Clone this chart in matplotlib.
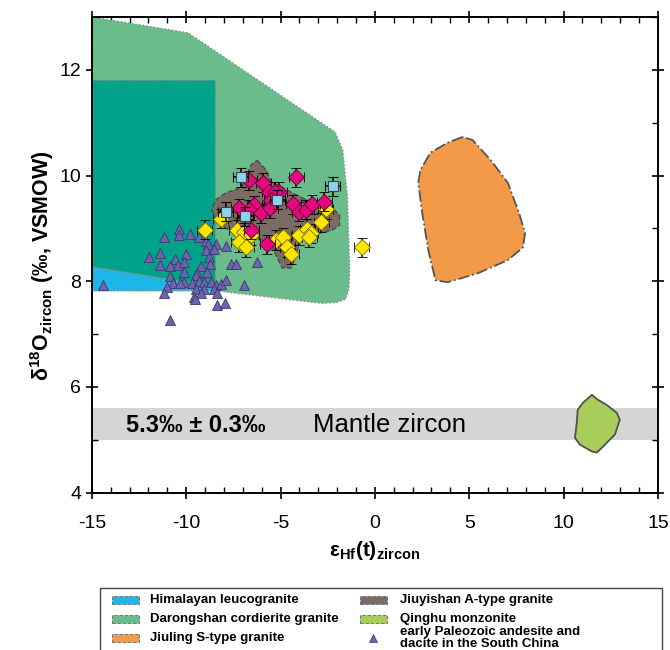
import matplotlib
matplotlib.use('Agg')
import matplotlib.pyplot as plt
from matplotlib.patches import Polygon, Rectangle
from matplotlib.lines import Line2D
from matplotlib.ticker import MultipleLocator

plt.rcParams['font.family'] = ['Liberation Sans', 'DejaVu Sans']
plt.rcParams['mathtext.fontset'] = 'custom'
plt.rcParams['mathtext.rm'] = 'Liberation Sans'
plt.rcParams['mathtext.bf'] = 'Liberation Sans:bold'
plt.rcParams['mathtext.it'] = 'Liberation Sans:italic'
plt.rcParams['axes.unicode_minus'] = False

# field outlines (eHf, d18O)
darongshan = [(-15, 13.0), (-9.9, 12.7), (-2.1, 10.82), (-1.7, 10.48), (-1.45, 9.6),
              (-1.33, 8.2), (-1.38, 7.85), (-1.55, 7.66), (-2.0, 7.6), (-2.8, 7.58),
              (-8.45, 7.82), (-15, 7.82)]
himalaya_overlap = [(-15, 11.8), (-8.45, 11.8), (-8.45, 7.9), (-15, 8.27)]
himalaya = [(-15, 8.27), (-8.45, 7.88), (-8.45, 7.82), (-15, 7.82)]
jiuyishan = [(-6.24, 10.29), (-5.76, 10.10), (-5.50, 9.88), (-4.70, 9.73), (-3.63, 9.54),
             (-2.40, 9.44), (-1.87, 9.25), (-1.87, 9.06), (-2.24, 8.97), (-2.93, 8.91),
             (-3.63, 8.83), (-4.00, 8.72), (-4.27, 8.40), (-4.43, 8.25), (-4.91, 8.25),
             (-5.18, 8.45), (-5.44, 8.64), (-5.98, 8.78), (-6.51, 8.83), (-7.58, 8.93),
             (-8.27, 9.10), (-8.65, 9.35), (-8.43, 9.54), (-7.90, 9.67), (-7.04, 9.78),
             (-6.78, 10.01), (-6.56, 10.20)]
jiuling = [(4.65, 10.73), (3.85, 10.62), (2.94, 10.43), (2.41, 10.10), (2.30, 9.86),
           (2.51, 9.29), (2.83, 8.59), (3.21, 8.02), (3.85, 7.98), (5.45, 8.15),
           (7.05, 8.40), (7.85, 8.64), (7.96, 8.91), (7.64, 9.29), (7.05, 9.86),
           (6.14, 10.29), (5.18, 10.67)]
qinghu = [(11.50, 5.85), (11.02, 5.70), (10.75, 5.57), (10.70, 5.32), (10.60, 5.04),
          (10.86, 4.91), (11.50, 4.78), (11.76, 4.76), (12.03, 4.85), (12.72, 5.10),
          (12.98, 5.38), (12.82, 5.51), (12.29, 5.66), (11.81, 5.76)]

# early Paleozoic andesite and dacite
tri_x = [-14.41, -10.84, -11.16, -10.36, -10.36, -9.77, -9.34, -8.97, -8.43, -7.90,
         -8.86, -8.54, -8.97, -11.37, -11.96, -10.57, -10.03, -8.81, -11.37, -10.84,
         -10.41, -10.14, -9.23, -8.75, -7.63, -7.37, -6.24, -10.14, -9.45, -8.91,
         -10.84, -9.50, -10.68, -10.14, -10.30, -9.71, -9.34, -9.07, -8.70, -8.43,
         -8.17, -7.90, -6.94, -11.00, -9.50, -9.07, -8.54, -11.16, -9.61, -9.23,
         -8.38, -8.38, -7.95, -9.55]
tri_y = [7.92, 7.26, 8.83, 8.99, 8.87, 8.89, 8.83, 8.76, 8.70, 8.66,
         8.70, 8.61, 8.59, 8.53, 8.46, 8.42, 8.51, 8.46, 8.30, 8.28,
         8.30, 8.36, 8.28, 8.32, 8.32, 8.32, 8.36, 8.17, 8.15, 8.17,
         8.09, 8.11, 7.96, 7.98, 7.96, 7.96, 8.00, 7.98, 7.98, 7.92,
         7.94, 8.02, 7.92, 7.89, 7.85, 7.85, 7.85, 7.77, 7.70, 7.77,
         7.77, 7.55, 7.58, 7.66]

# this study
mag_x = [-6.67, -5.92, -5.60, -5.07, -5.28, -4.16, -5.50, -6.40, -7.20, -6.67,
         -6.03, -5.55, -4.32, -4.00, -3.63, -3.31, -2.67, -6.56, -5.71]
mag_y = [9.91, 9.86, 9.69, 9.69, 9.69, 9.97, 9.54, 9.44, 9.38, 9.35,
         9.29, 9.38, 9.46, 9.31, 9.35, 9.46, 9.50, 8.97, 8.70]
yel_x = [-9.02, -8.17, -7.31, -6.94, -6.56, -7.20, -6.83, -5.23, -4.86, -4.64,
         -4.43, -4.00, -3.57, -3.41, -3.47, -2.83, -2.61, -0.69]
yel_y = [8.97, 9.18, 8.97, 8.93, 8.87, 8.74, 8.64, 8.78, 8.83, 8.64,
         8.51, 8.87, 8.99, 8.91, 8.83, 9.12, 9.36, 8.64]
sq_x = [-7.10, -2.24, -5.18, -7.90, -6.88]
sq_y = [9.97, 9.80, 9.54, 9.31, 9.23]
x_err = 0.4
y_err = 0.18

legend_labels = ['Himalayan leucogranite', 'Darongshan cordierite granite', 'Jiuling S-type granite',
                 'Jiuyishan A-type granite', 'Qinghu monzonite',
                 'early Paleozoic andesite and\ndacite in the South China']
legend_colors = ['#1cb6e9', '#6abd8b', '#f29a48', '#7a6b65', '#a9cd5b', None]

fig = plt.figure(figsize=(6.7, 6.5), dpi=100)
ax = fig.add_axes([0.137, 0.242, 0.845, 0.732])

ax.axhspan(5.0, 5.6, color='#d4d5d4', zorder=1, lw=0)

ax.add_patch(Polygon(darongshan, closed=True, fc='#6abd8b', ec='#8a8a8a', ls=':', lw=1, zorder=2))
ax.add_patch(Polygon(himalaya_overlap, closed=True, fc='#00a389', ec='#8a8a8a', ls=':', lw=1, zorder=2))
ax.add_patch(Polygon(himalaya, closed=True, fc='#1cb6e9', ec='#8a8a8a', ls=':', lw=1, zorder=2))
ax.add_patch(Polygon(jiuyishan, closed=True, fc='#7a6b65', ec='#4a4a4a', ls='--', lw=1, zorder=3))
ax.add_patch(Polygon(jiuling, closed=True, fc='#f29a48', ec='#555555', ls='-.', lw=1.3, zorder=3))
ax.add_patch(Polygon(qinghu, closed=True, fc='#a9cd5b', ec='#505050', ls='-', lw=1.3, zorder=3))

ax.plot(tri_x, tri_y, '^', ms=6.5, mfc='#6c64aa', mec='#3b3670', mew=0.6, ls='none', zorder=4)

ax.errorbar(yel_x, yel_y, xerr=x_err, yerr=y_err, fmt='D', ms=8, mfc='#ffe600', mec='#7a6a00',
            mew=0.6, ecolor='black', elinewidth=1.1, capsize=3.5, capthick=1.1, zorder=5)
ax.errorbar(mag_x, mag_y, xerr=x_err, yerr=y_err, fmt='D', ms=8, mfc='#e5097f', mec='#5a0030',
            mew=0.6, ecolor='black', elinewidth=1.1, capsize=3.5, capthick=1.1, zorder=6)
ax.errorbar(sq_x, sq_y, xerr=x_err, yerr=y_err, fmt='s', ms=7.5, mfc='#8fd0ee', mec='#404040',
            mew=0.8, ecolor='black', elinewidth=1.1, capsize=3.5, capthick=1.1, zorder=7)

ax.text(-13.2, 5.28, '5.3‰ ± 0.3‰', fontsize=17, fontweight='bold', va='center', zorder=8)
ax.text(-3.3, 5.28, 'Mantle zircon', fontsize=18.5, va='center', zorder=8)

ax.set_xlim(-15, 15)
ax.set_ylim(4, 13)
ax.xaxis.set_major_locator(MultipleLocator(5))
ax.xaxis.set_minor_locator(MultipleLocator(1))
ax.yaxis.set_major_locator(MultipleLocator(2))
ax.yaxis.set_minor_locator(MultipleLocator(1))
ax.tick_params(which='major', direction='inout', length=8, width=1.2, labelsize=14,
               top=True, right=True)
ax.tick_params(axis='x', which='major', pad=12)
ax.tick_params(which='minor', direction='in', length=4, width=1.0, top=True, right=True)
for s in ax.spines.values():
    s.set_linewidth(1.4)

ax.set_xlabel(r'$\mathbf{\epsilon_{Hf}(t)_{zircon}}$', fontsize=15, labelpad=5)
ax.set_ylabel(r'$\mathbf{\delta^{18}O_{zircon}}$ (‰, VSMOW)', fontsize=15.5, fontweight='bold')
ax.yaxis.set_label_coords(-0.063, 0.477)

# legend box below the axes (cut by the figure edge, as in the source figure)
def fx(px):
    return px / 670

def fy(py):
    return 1 - py / 650

fig.add_artist(Rectangle((fx(100), fy(720)), fx(662) - fx(100), fy(588) - fy(720),
                         transform=fig.transFigure, fill=False, ec='#444444', lw=1.0))
rows = [600, 619, 638]
for i, (lab, col) in enumerate(zip(legend_labels, legend_colors)):
    c = i // 3
    r = rows[i % 3]
    hx = [112, 360][c]
    tx = [150, 400][c]
    if col is not None:
        fig.add_artist(Rectangle((fx(hx), fy(r + 4)), fx(27), 8 / 650, transform=fig.transFigure,
                                 fc=col, ec='#777777', ls='--', lw=0.7))
    else:
        fig.add_artist(Line2D([fx(hx + 13)], [fy(r)], marker='^', ls='none', ms=6,
                              mfc='#6c64aa', mec='#3b3670', mew=0.5, transform=fig.transFigure))
    fig.text(fx(tx), fy(r), lab, fontsize=9.5, fontweight='bold', va='center', ha='left',
             linespacing=1.0)

fig.savefig('out.png', dpi=100)
